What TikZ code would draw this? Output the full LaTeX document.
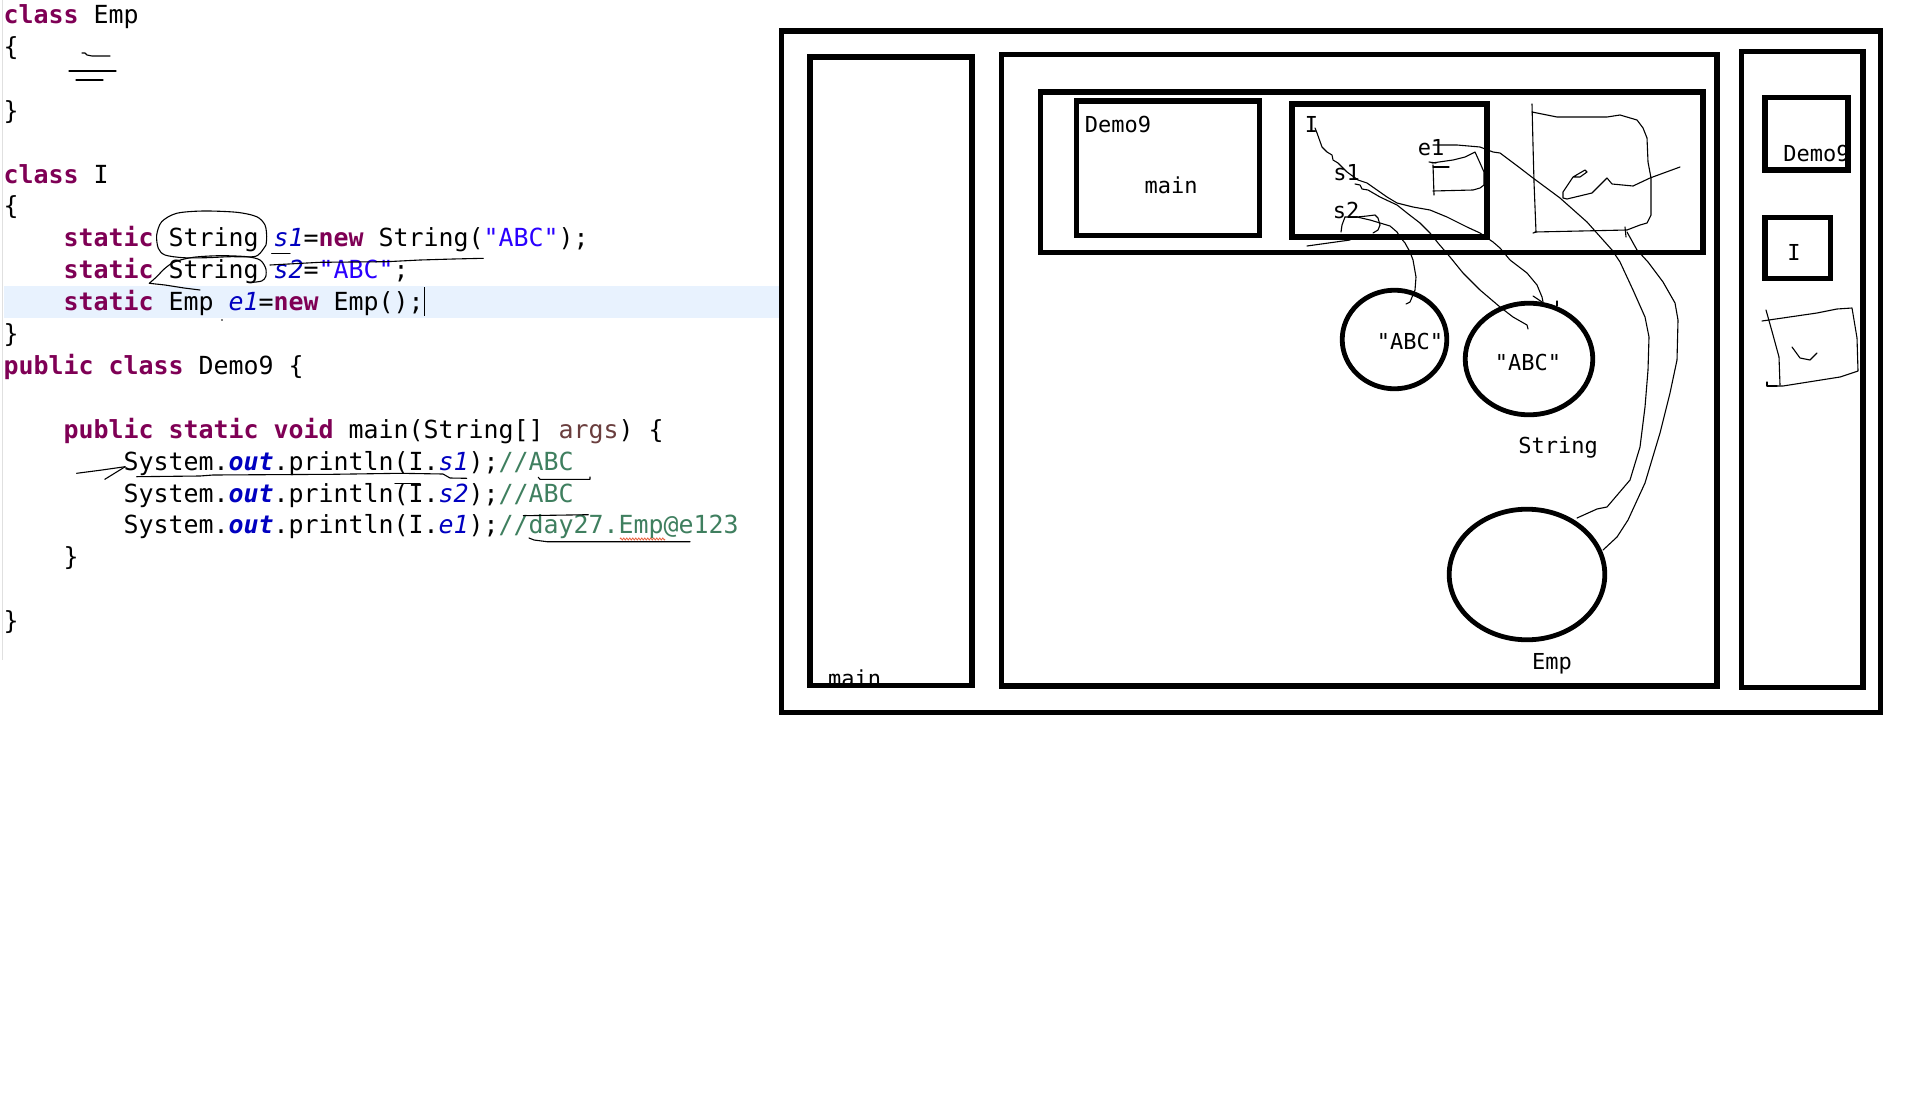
\documentclass[tikz,border=0pt]{standalone}
\usepackage{fontspec}
\usetikzlibrary{shapes.geometric,decorations.pathmorphing}
\newfontfamily\codefont{DejaVu Sans Mono}
\newfontfamily\labfont{DejaVu Sans Mono}
\definecolor{jkwc}{HTML}{7F0055}
\definecolor{jfldc}{HTML}{0000C0}
\definecolor{jstrc}{HTML}{2A00FF}
\definecolor{jcmtc}{HTML}{3F7F5F}
\definecolor{jlocc}{HTML}{6A3E3E}
\definecolor{hilite}{HTML}{E8F2FE}
\definecolor{spellc}{HTML}{E8603C}
\newcommand\jkw[1]{\textcolor{jkwc}{\bfseries #1}}
\newcommand\jfld[1]{\textcolor{jfldc}{\itshape #1}}
\newcommand\jout[1]{\textcolor{jfldc}{\bfseries\itshape #1}}
\newcommand\jstr[1]{\textcolor{jstrc}{#1}}
\newcommand\jcmt[1]{\textcolor{jcmtc}{#1}}
\newcommand\jloc[1]{\textcolor{jlocc}{#1}}
\newcommand\jind[1]{\hspace*{#1pt}}
\tikzset{
  box/.style={draw, line width=5.2pt, rectangle, inner sep=0pt, outer sep=0pt},
  objcirc/.style={draw, ellipse, line width=4.8pt, inner sep=0pt, outer sep=0pt},
  codeline/.style={anchor=base west, inner sep=0pt, font=\codefont\fontsize{24.915}{31.9}\selectfont},
  lab/.style={anchor=base, inner sep=0pt, font=\labfont\fontsize{22}{26}\selectfont},
  ink/.style={line width=1.1pt, line join=round, line cap=round},
}
\begin{document}
\begin{tikzpicture}[x=1pt,y=-1pt]
\useasboundingbox (0,0) rectangle (1917,1095);
\fill[white] (0,0) rectangle (1917,1095);
% editor
\draw[black!12, line width=1pt] (2,0) -- (2,660);
\fill[hilite] (4,286) rectangle (781,318);
\node[codeline] (l1) at (3.5,23.5) {\jkw{class} Emp};
\node[codeline] (l2) at (3.5,55.4) {\{};
\node[codeline] (l4) at (3.5,119.2) {\}};
\node[codeline] (l6) at (3.5,183.0) {\jkw{class} I};
\node[codeline] (l7) at (3.5,214.9) {\{};
\node[codeline] (l8) at (3.5,246.8) {\jind{60}\jkw{static} String \jfld{s1}=\jkw{new} String(\jstr{"ABC"});};
\node[codeline] (l9) at (3.5,278.7) {\jind{60}\jkw{static} String \jfld{s2}=\jstr{"ABC"};};
\node[codeline] (l10) at (3.5,310.6) {\jind{60}\jkw{static} Emp \jfld{e1}=\jkw{new} Emp();};
\node[codeline] (l11) at (3.5,342.5) {\}};
\node[codeline] (l12) at (3.5,374.4) {\jkw{public} \jkw{class} Demo9 \{};
\node[codeline] (l14) at (3.5,438.2) {\jind{60}\jkw{public} \jkw{static} \jkw{void} main(String[] \jloc{args}) \{};
\node[codeline] (l15) at (3.5,470.1) {\jind{120}System.\jout{out}.println(I.\jfld{s1});\jcmt{//ABC}};
\node[codeline] (l16) at (3.5,502.0) {\jind{120}System.\jout{out}.println(I.\jfld{s2});\jcmt{//ABC}};
\node[codeline] (l17) at (3.5,533.9) {\jind{120}System.\jout{out}.println(I.\jfld{e1});\jcmt{//day27.Emp@e123}};
\node[codeline] (l18) at (3.5,565.8) {\jind{60}\}};
\node[codeline] (l20) at (3.5,629.6) {\}};
\draw[line width=1.5pt] (424.5,287) -- (424.5,316);
% code annotations
\draw[ink] (82,53) -- (85,53) -- (87,55) -- (92,56) -- (110,56);
\draw[ink] (69,71) -- (116,71);
\draw[ink] (76,80) -- (103,80);
\draw[ink] plot[smooth] coordinates {(266,245) (266.7,236.7) (265,225) (256.7,216.7) (236.7,212.3) (203.3,211) (176.7,213.3) (161.7,221.7) (156.7,235) (158.3,248.3) (165,255) (183.3,257.7) (206.7,257.7) (230,256.7) (253.3,256.7) (260,253.3) (266,245)};
\draw[ink] plot[smooth] coordinates {(149.3,283.3) (156.7,276.7) (165,268.3) (175,261.7) (193.3,257.3) (220,255.7) (246.7,256.7) (260,260) (265.7,268.3) (265.7,276.7) (261.7,281) (253,282.3)};
\draw[ink] (149.3,283.3) -- (165,285) -- (184,288) -- (200,290);
\draw[ink] (271.7,253.3) -- (290,253.3);
\draw[ink] (270,265) -- (320,262.3) -- (386.7,261.7) -- (420,260) -- (453.3,259) -- (483.3,258.3);
\fill (222,320) circle (0.8);
\draw[ink] (76.6,473.3) -- (102,470) -- (125,466.7);
\draw[ink] (104.8,479.3) -- (125.2,466.7);
\draw[ink] (136.7,476.7) -- (200,476) -- (213,475) -- (333,474.3) -- (400,473.3) -- (443,474) -- (450,478) -- (466.7,478.3);
\draw[ink] (538.3,477.3) -- (540,479.3) -- (590,479.3) -- (590,477);
\draw[ink] (395,483.3) -- (420,483.3);
\draw[ink] (523.3,515.7) -- (588.3,514.7);
\draw[ink] (529,538) -- (534,540) -- (547,541.7) -- (690,541.7);
\draw[spellc, line width=0.8pt, decorate, decoration={zigzag, segment length=3pt, amplitude=1pt}] (620,539) -- (665,539);
% labels
\node[lab] (tmain) at (854.5,686) {main};
\node[lab] (tdemo) at (1118,132) {Demo9};
\node[lab] (tdmain) at (1171,193) {main};
\node[lab] (tI) at (1311.5,132) {I};
\node[lab] (te1) at (1431,155) {e1};
\node[lab] (ts1) at (1346.5,180) {s1};
\node[lab] (ts2) at (1346,218) {s2};
\node[lab] (tabc1) at (1410,349) {"ABC"};
\node[lab] (tabc2) at (1528,370) {"ABC"};
\node[lab] (tstring) at (1558,453) {String};
\node[lab] (temp) at (1552,669) {Emp};
\node[lab] (tmdemo) at (1816.5,161) {Demo9};
\node[lab] (tmI) at (1794,260) {I};
% boxes
\node[box, minimum width=1099pt, minimum height=681.5pt] (outer) at (1331,371.75) {};
\node[box, minimum width=162pt, minimum height=628.5pt] (stack) at (891,371.25) {};
\node[box, minimum width=715.5pt, minimum height=631.5pt] (heap) at (1359.25,370.25) {};
\node[box, minimum width=662.5pt, minimum height=160.5pt] (static) at (1371.75,172.25) {};
\node[box, minimum width=183pt, minimum height=134.5pt] (demobox) at (1168,168.25) {};
\node[box, minimum width=195pt, minimum height=133pt] (ibox) at (1389.5,170.5) {};
\node[box, minimum width=121.5pt, minimum height=636pt] (method) at (1802.25,369.5) {};
\node[box, minimum width=83pt, minimum height=72.5pt] (mdemo) at (1806.5,133.75) {};
\node[box, minimum width=65.5pt, minimum height=61pt] (mI) at (1797.75,248) {};
% heap objects
\node[objcirc, minimum width=104.6pt, minimum height=98.6pt] (abc1) at (1394.5,339.5) {};
\node[objcirc, minimum width=127.6pt, minimum height=111.6pt] (abc2) at (1529,359) {};
\node[objcirc, minimum width=155.6pt, minimum height=130.6pt] (empobj) at (1527,574.5) {};
% hand-drawn references
\draw[ink] (1345,217) -- (1357,217) -- (1370,220) -- (1380,223) -- (1390,226) -- (1397,232) -- (1400,237) -- (1405,243) -- (1410,252) -- (1413,260) -- (1416,277) -- (1415,290) -- (1410,302) -- (1406,304);
\draw[ink] (1357,217) -- (1367,216) -- (1375,215) -- (1378,218) -- (1380,225) -- (1378,230) -- (1373,233);
\draw[ink] (1345,217) -- (1342,225) -- (1341,232);
\draw[ink] (1307,246) -- (1350,240);
\draw[ink] (1355,184) -- (1360,185) -- (1362,189) -- (1368,190) -- (1380,197) -- (1397,205) -- (1407,213) -- (1420,223) -- (1430,233) -- (1438,243) -- (1450,257) -- (1463,273) -- (1480,290) -- (1500,307) -- (1513,317) -- (1527,325) -- (1528,329);
\draw[ink] (1315,128) -- (1317,133) -- (1322,147) -- (1327,152) -- (1332,155) -- (1333,160) -- (1338,163) -- (1347,172) -- (1358,180) -- (1367,183) -- (1377,190) -- (1387,197) -- (1397,203) -- (1413,207) -- (1430,210) -- (1447,217) -- (1467,227) -- (1480,233) -- (1493,242) -- (1500,248) -- (1510,260) -- (1527,273) -- (1537,285) -- (1542,297) -- (1543,302);
\draw[ink] (1533,296) -- (1542,302);
\draw[ink] (1557,301) -- (1557,306);
\draw[ink] (1433,145) -- (1457,145) -- (1480,147) -- (1493,152) -- (1500,153) -- (1520,168) -- (1533,178) -- (1560,198) -- (1587,222) -- (1612,250) -- (1620,262) -- (1633,290) -- (1645,317) -- (1649,337) -- (1648,370) -- (1645,407) -- (1640,447) -- (1630,480) -- (1607,507) -- (1597,509) -- (1577,518);
\draw[ink] (1432,163) -- (1453,160) -- (1465,157) -- (1475,152) -- (1480,163) -- (1484,172) -- (1484,185) -- (1480,188) -- (1473,190) -- (1433,191);
\draw[ink] (1433,165) -- (1434,195);
\draw[ink] (1433,167) -- (1449,167);
\draw[ink] (1429,162) -- (1436,163);
\draw[ink] (1532,104) -- (1533,145) -- (1534,182) -- (1536,232) -- (1533,233);
\draw[ink] (1532,112) -- (1557,117) -- (1607,117) -- (1620,115) -- (1637,120) -- (1643,128) -- (1647,138) -- (1648,162) -- (1651,178) -- (1651,215) -- (1647,223) -- (1640,225) -- (1627,230) -- (1535,232);
\draw[ink] (1680,167) -- (1650,178) -- (1633,186) -- (1612,184) -- (1607,178) -- (1592,193) -- (1567,199) -- (1563,198) -- (1563,192) -- (1573,177) -- (1585,170) -- (1587,172) -- (1580,177) -- (1573,177);
\draw[ink] (1625,227) -- (1626,237);
\draw[ink] (1627,232) -- (1637,250) -- (1648,262) -- (1663,282) -- (1675,303) -- (1678,320) -- (1677,360) -- (1670,393) -- (1660,433) -- (1645,483) -- (1628,520) -- (1617,537) -- (1603,550);
\draw[ink] (1762,321) -- (1817,313) -- (1837,309) -- (1852,308) -- (1857,338) -- (1858,371) -- (1840,377) -- (1783,386) -- (1777,386);
\draw[ink] (1766,310) -- (1773,335) -- (1779,357) -- (1780,385);
\draw[ink] (1767,382) -- (1767,386) -- (1777,386);
\draw[ink] (1792,347) -- (1800,358) -- (1810,360) -- (1817,353);
\end{tikzpicture}
\end{document}
